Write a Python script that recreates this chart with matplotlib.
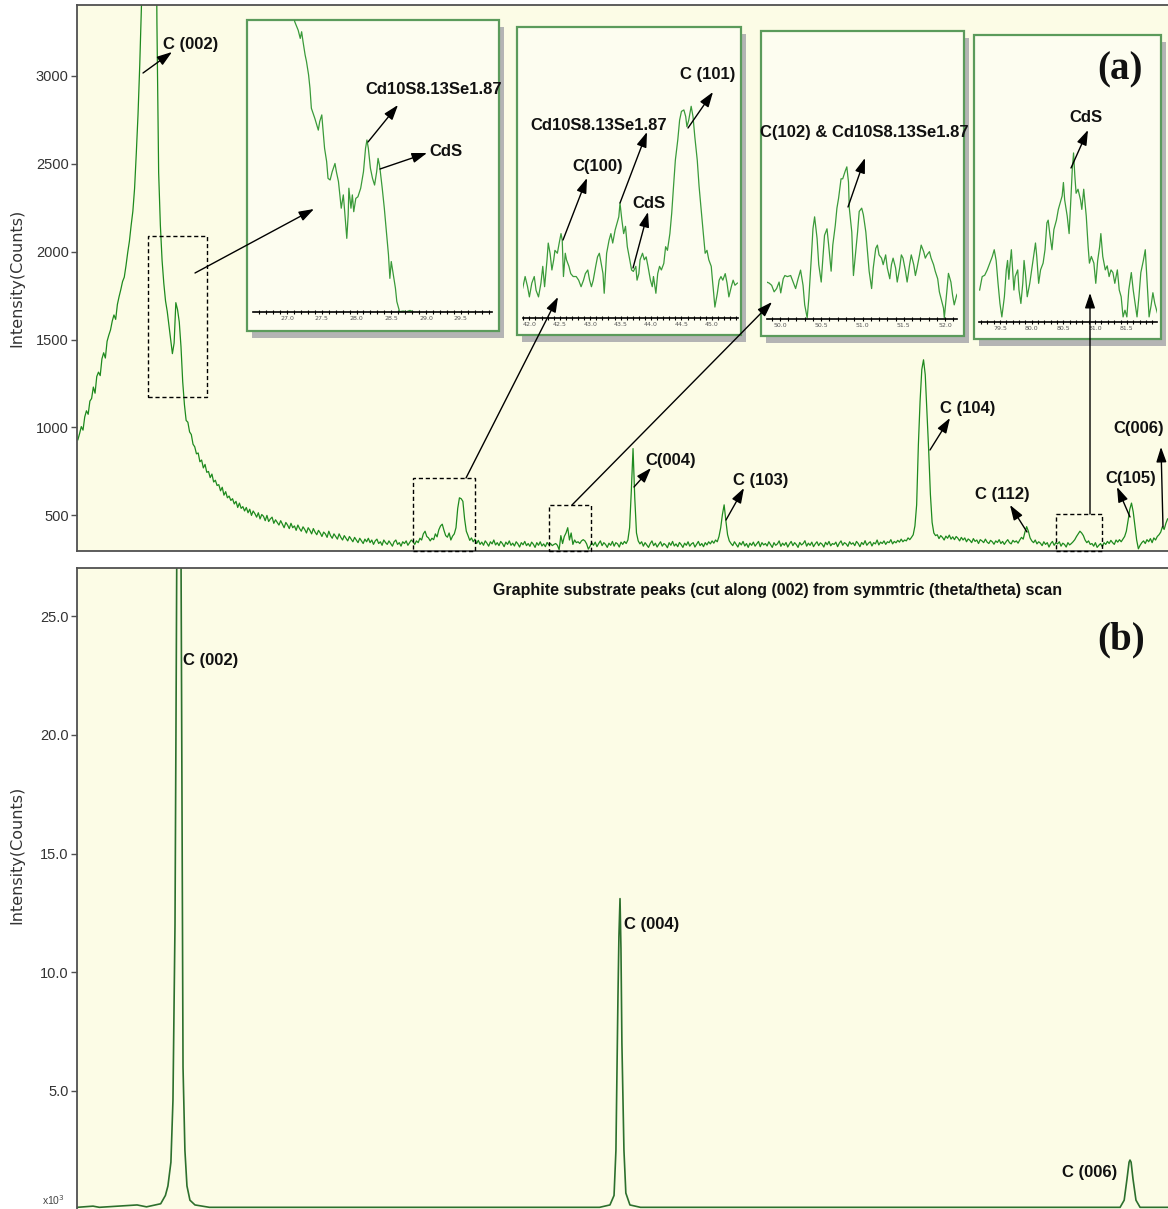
import numpy as np
import matplotlib
matplotlib.use("Agg")
import matplotlib.pyplot as plt
from matplotlib.patches import Rectangle
from matplotlib.ticker import MultipleLocator, FormatStrFormatter
from matplotlib import font_manager

# ======================= DATA =======================
# Panel (a): wide scan, 2theta grid start/step (deg) and counts
scan_start_a = 22.3
scan_step_a = 0.1
counts_a = [
    930, 965, 1005, 985, 1060, 1095, 1075, 1150, 1165, 1230,
    1195, 1290, 1315, 1295, 1390, 1425, 1395, 1490, 1525, 1555,
    1605, 1640, 1615, 1700, 1745, 1785, 1830, 1855, 1920, 1995,
    2060, 2150, 2230, 2360, 2560, 2780, 3060, 3400, 4500, 6500,
    9000, 12000, 13000, 11000, 7500, 4800, 3300, 2450, 2150, 1950,
    1820, 1720, 1660, 1580, 1500, 1420, 1480, 1710, 1670, 1600,
    1460, 1260, 1130, 1040, 1030, 975, 960, 905, 890, 850,
    855, 805, 815, 770, 790, 745, 750, 715, 735, 690,
    700, 670, 675, 640, 660, 615, 635, 600, 610, 585,
    595, 565, 580, 545, 570, 540, 550, 525, 545, 515,
    535, 500, 525, 510, 490, 515, 480, 505, 495, 470,
    500, 465, 480, 490, 455, 475, 460, 445, 470, 450,
    430, 460, 445, 425, 455, 430, 440, 415, 445, 425,
    410, 435, 420, 400, 430, 415, 395, 425, 405, 390,
    415, 400, 380, 405, 395, 375, 410, 385, 370, 395,
    380, 365, 395, 375, 360, 385, 370, 355, 380, 365,
    350, 375, 360, 345, 370, 355, 340, 365, 350, 370,
    345, 360, 335, 355, 365, 340, 350, 330, 360, 345,
    335, 355, 340, 325, 350, 360, 335, 345, 325, 350,
    340, 355, 330, 345, 360, 350, 335, 355, 345, 370,
    360, 395, 410, 380, 372, 355, 370, 362, 395, 378,
    418, 440, 450, 415, 385, 376, 400, 360, 382, 395,
    430, 540, 600, 595, 580, 480, 410, 385, 358, 372,
    350, 365, 340, 358, 335, 348, 330, 355, 342, 325,
    350, 338, 360, 332, 345, 328, 352, 340, 322, 348,
    335, 355, 330, 342, 326, 350, 338, 320, 345, 333,
    352, 328, 340, 324, 348, 336, 318, 345, 330, 350,
    326, 338, 322, 346, 332, 340, 328, 335, 340, 330,
    305, 385, 340, 380, 400, 430, 360, 400, 335, 360,
    345, 350, 340, 355, 362, 355, 338, 308, 325, 345,
    330, 348, 322, 340, 355, 328, 345, 335, 318, 342,
    330, 352, 325, 345, 338, 320, 348, 335, 352, 340,
    360, 430, 640, 880, 600, 400, 355, 338, 350, 325,
    345, 332, 318, 340, 355, 328, 342, 320, 336, 350,
    325, 340, 332, 316, 345, 330, 352, 326, 338, 322,
    346, 334, 318, 342, 330, 350, 325, 338, 345, 320,
    336, 352, 328, 340, 322, 345, 332, 350, 338, 355,
    342, 360, 350, 380, 430, 505, 560, 470, 390, 355,
    340, 328, 350, 335, 320, 345, 332, 352, 326, 340,
    318, 342, 330, 348, 325, 338, 352, 322, 345, 332,
    340, 326, 350, 334, 318, 345, 330, 338, 355, 324,
    342, 330, 346, 320, 338, 352, 328, 345, 334, 318,
    346, 332, 340, 356, 325, 342, 330, 348, 322, 338,
    350, 328, 344, 336, 320, 347, 333, 352, 327, 340,
    335, 348, 322, 342, 355, 330, 345, 338, 324, 350,
    336, 344, 328, 352, 340, 322, 346, 334, 356, 330,
    342, 350, 326, 345, 338, 360, 332, 348, 340, 355,
    335, 350, 345, 362, 338, 352, 344, 358, 348, 365,
    350, 360, 355, 372, 362, 375, 390, 440, 560, 900,
    1150, 1330, 1385, 1300, 1080, 870, 620, 460, 400, 385,
    390, 368, 385, 375, 360, 382, 370, 388, 365, 378,
    362, 380, 370, 355, 375, 360, 372, 350, 366, 358,
    345, 368, 352, 360, 340, 362, 355, 345, 365, 348,
    340, 358, 350, 336, 355, 346, 362, 340, 352, 335,
    350, 362, 345, 338, 358, 348, 355, 342, 360, 375,
    365, 405, 436, 410, 372, 355, 345, 360, 338, 350,
    342, 328, 350, 335, 345, 320, 340, 352, 330, 345,
    338, 350, 325, 342, 335, 320, 345, 332, 340, 350,
    362, 380, 395, 410, 400, 385, 360, 345, 355, 335,
    340, 325, 345, 318, 330, 340, 322, 345, 335, 352,
    340, 358, 345, 335, 360, 348, 362, 350, 365, 380,
    410, 470, 535, 570, 520, 440, 360, 310, 330, 345,
    355, 340, 362, 350, 368, 345, 372, 360, 380, 390,
    405, 436, 420, 455, 480,
]
two_theta_a = np.round(scan_start_a + scan_step_a * np.arange(len(counts_a)), 2)

# Panel (b): cut along (002), intensity in units of 10^3 counts
two_theta_b = [20.1, 21.1, 21.5, 23.9, 24.5, 25.4, 25.7, 25.86, 26.05, 26.18,
               26.31, 26.37, 26.44, 26.5, 26.56, 26.63, 26.69, 26.75, 26.82, 26.94,
               27.07, 27.26, 27.58, 28.5, 53.3, 53.96, 54.22, 54.34, 54.47, 54.53,
               54.6, 54.66, 54.72, 54.85, 54.97, 55.23, 55.9, 86.39, 86.65, 86.83,
               86.96, 87.02, 87.09, 87.21, 87.4, 87.66, 89.4]
counts_b = [0.1, 0.15, 0.1, 0.2, 0.12, 0.25, 0.6, 1.0, 2.0, 4.6,
            12, 20, 30, 45, 50, 40, 28, 18, 6, 2.5,
            1.0, 0.4, 0.2, 0.1, 0.1, 0.2, 0.6, 2.5, 9, 11.5,
            13.1, 11, 7, 2.5, 0.7, 0.2, 0.1, 0.1, 0.4, 1.3,
            2.0, 2.09, 2.0, 1.3, 0.4, 0.1, 0.1]

# Inset 1 (26.5-30 deg)
inset1_tt = [27.08, 27.11, 27.16, 27.19, 27.21, 27.23, 27.26, 27.28, 27.31, 27.33, 27.35,
             27.40, 27.45, 27.47, 27.50, 27.52, 27.54, 27.57, 27.59, 27.62, 27.65,
             27.69, 27.71, 27.74, 27.76, 27.78, 27.81, 27.83, 27.86, 27.88, 27.89,
             27.92, 27.94, 27.96, 27.99, 28.02, 28.06, 28.10, 28.13, 28.15, 28.17,
             28.20, 28.23, 28.26, 28.29, 28.31, 28.33, 28.34, 28.37, 28.40, 28.43,
             28.46, 28.48, 28.50, 28.53, 28.56, 28.58, 28.62, 28.67, 28.72, 28.77,
             28.81]
inset1_counts = [2160, 2095, 2068, 2042, 2063, 2032, 1990, 1969, 1927, 1885, 1822,
                 1790, 1753, 1780, 1801, 1748, 1696, 1654, 1601, 1596, 1622,
                 1648, 1622, 1591, 1549, 1507, 1549, 1496, 1412, 1486, 1570,
                 1507, 1549, 1496, 1538, 1543, 1570, 1622, 1696, 1722, 1696,
                 1633, 1601, 1580, 1622, 1664, 1643, 1627, 1570, 1507, 1433,
                 1360, 1286, 1339, 1297, 1255, 1213, 1181, 1183, 1181, 1185,
                 1181]

# Inset 2 (42-45.4 deg)
inset2_tt = [41.89, 41.93, 41.97, 42.00, 42.04, 42.08, 42.11, 42.15, 42.19, 42.22,
             42.25, 42.29, 42.31, 42.34, 42.37, 42.40, 42.42, 42.46, 42.49, 42.52,
             42.54, 42.56, 42.59, 42.61, 42.65, 42.68, 42.72, 42.77, 42.81, 42.85,
             42.89, 42.92, 42.96, 42.99, 43.02, 43.05, 43.09, 43.12, 43.15, 43.17,
             43.21, 43.23, 43.25, 43.27, 43.31, 43.34, 43.37, 43.41, 43.44, 43.47,
             43.49, 43.52, 43.55, 43.58, 43.61, 43.65, 43.68, 43.71, 43.75, 43.77,
             43.80, 43.82, 43.86, 43.89, 43.92, 43.95, 43.99, 44.02, 44.04, 44.08,
             44.11, 44.14, 44.17, 44.21, 44.24, 44.27, 44.31, 44.34, 44.37, 44.40,
             44.44, 44.47, 44.50, 44.54, 44.57, 44.59, 44.62, 44.66, 44.69, 44.72,
             44.76, 44.79, 44.82, 44.86, 44.89, 44.92, 44.95, 44.99, 45.01, 45.03,
             45.05, 45.09, 45.12, 45.15, 45.18, 45.22, 45.25, 45.28, 45.32, 45.35,
             45.38, 45.42]
inset2_counts = [358, 374, 360, 346, 365, 374, 355, 346, 365, 388,
                 360, 397, 420, 406, 383, 397, 410, 406, 420, 433,
                 424, 374, 406, 397, 388, 378, 374, 374, 369, 360,
                 369, 378, 383, 369, 360, 369, 388, 401, 406, 397,
                 378, 351, 378, 406, 424, 433, 420, 438, 447, 456,
                 475, 452, 433, 443, 415, 397, 383, 381, 388, 369,
                 378, 397, 406, 397, 401, 388, 369, 360, 374, 351,
                 378, 388, 383, 392, 415, 410, 433, 461, 498, 534,
                 562, 589, 601, 603, 594, 580, 589, 608, 594, 566,
                 534, 498, 470, 433, 406, 410, 397, 388, 369, 351,
                 332, 351, 369, 374, 369, 378, 365, 346, 360, 369,
                 362, 365]

# Inset 3 (50-52 deg)
inset3_tt = [49.84, 49.87, 49.90, 49.93, 49.96, 49.99, 50.01, 50.04, 50.06, 50.09,
             50.13, 50.16, 50.19, 50.22, 50.25, 50.28, 50.30, 50.33, 50.35, 50.38,
             50.40, 50.42, 50.45, 50.47, 50.50, 50.52, 50.54, 50.57, 50.59, 50.62,
             50.64, 50.67, 50.69, 50.71, 50.74, 50.76, 50.79, 50.81, 50.83, 50.84,
             50.87, 50.89, 50.91, 50.94, 50.96, 50.99, 51.01, 51.04, 51.06, 51.08,
             51.11, 51.13, 51.16, 51.18, 51.20, 51.23, 51.25, 51.28, 51.30, 51.33,
             51.35, 51.37, 51.40, 51.42, 51.45, 51.47, 51.49, 51.52, 51.54, 51.57,
             51.59, 51.62, 51.64, 51.66, 51.69, 51.71, 51.74, 51.76, 51.78, 51.81,
             51.83, 51.86, 51.88, 51.91, 51.93, 51.95, 51.98, 51.99, 52.02, 52.04,
             52.07, 52.09, 52.11, 52.14, 52.16]
inset3_counts = [334, 333, 331, 325, 328, 334, 324, 337, 340, 339,
                 340, 334, 328, 337, 345, 331, 313, 301, 319, 356,
                 383, 394, 374, 350, 334, 356, 377, 383, 368, 344,
                 368, 386, 402, 411, 429, 429, 436, 440, 426, 402,
                 380, 340, 356, 380, 399, 402, 396, 380, 362, 344,
                 328, 347, 365, 368, 359, 356, 350, 359, 347, 337,
                 350, 356, 347, 334, 347, 359, 356, 344, 334, 350,
                 359, 350, 340, 347, 359, 368, 362, 356, 359, 362,
                 356, 350, 344, 337, 325, 319, 310, 301, 325, 342,
                 334, 322, 313, 322, 325]

# Inset 4 (79.5-82 deg)
inset4_tt = [79.18, 79.22, 79.26, 79.30, 79.34, 79.38, 79.41, 79.44, 79.47, 79.50,
             79.53, 79.57, 79.60, 79.62, 79.64, 79.66, 79.68, 79.70, 79.72, 79.74,
             79.78, 79.80, 79.83, 79.86, 79.88, 79.90, 79.93, 79.97, 80.00, 80.03,
             80.06, 80.08, 80.11, 80.14, 80.18, 80.21, 80.24, 80.26, 80.29, 80.32,
             80.35, 80.39, 80.42, 80.45, 80.48, 80.50, 80.52, 80.56, 80.59, 80.62,
             80.64, 80.66, 80.68, 80.70, 80.73, 80.77, 80.79, 80.82, 80.84, 80.86,
             80.89, 80.91, 80.94, 80.98, 81.01, 81.04, 81.07, 81.09, 81.12, 81.16,
             81.19, 81.22, 81.25, 81.28, 81.31, 81.35, 81.38, 81.41, 81.44, 81.47,
             81.50, 81.53, 81.57, 81.60, 81.63, 81.66, 81.69, 81.72, 81.76, 81.79,
             81.82, 81.85, 81.88, 81.91, 81.94, 81.98]
inset4_counts = [324, 334, 335, 339, 344, 349, 354, 346, 329, 314,
                 304, 319, 339, 346, 332, 344, 354, 339, 324, 334,
                 339, 324, 314, 329, 346, 337, 319, 329, 339, 349,
                 359, 349, 329, 339, 344, 354, 374, 376, 364, 354,
                 369, 376, 384, 389, 394, 404, 391, 379, 366, 394,
                 414, 426, 409, 396, 399, 391, 384, 399, 389, 379,
                 356, 344, 349, 344, 329, 346, 356, 366, 349, 339,
                 342, 334, 339, 337, 329, 339, 324, 319, 304, 309,
                 304, 324, 337, 324, 314, 304, 319, 337, 346, 354,
                 329, 304, 312, 322, 314, 307]

# zoom windows marked by dashed boxes in (a): 2theta range and counts range
zoom_tt = [(26.4, 29.8), (41.8, 45.4), (49.7, 52.15), (79.2, 81.9)]
zoom_counts = [(1175, 2090), (297.5, 713), (297.5, 560), (297.5, 510)]
inset_tt_lim = [(26.51, 29.95), (41.89, 45.43), (49.84, 52.14), (79.17, 81.97)]
inset_count_lim = [(1180, 2100), (317, 717), (300, 565), (300, 513)]
inset_ticks = [[27.0, 27.5, 28.0, 28.5, 29.0, 29.5],
               [42.0, 42.5, 43.0, 43.5, 44.0, 44.5, 45.0],
               [50.0, 50.5, 51.0, 51.5, 52.0],
               [79.5, 80.0, 80.5, 81.0, 81.5]]
yticks_a = [500, 1000, 1500, 2000, 2500, 3000]
yticks_b = [5.0, 10.0, 15.0, 20.0, 25.0]

# ======================= STYLE / LAYOUT =======================
W, H, DPI = 1168, 1209, 100
CREAM = "#FCFCE6"
CREAM_IN = "#FDFDF0"
GREEN = "#1E8A1E"
GREEN_B = "#2D702D"
GREEN_IN = "#3A9A3A"
FRAME_GREEN = "#5B9B5B"
SPINE = "#505050"

names = {f.name for f in font_manager.fontManager.ttflist}
if "Liberation Sans Narrow" in names:
    LBL_FAM = ["Liberation Sans Narrow", "DejaVu Sans"]
    LBL_FS, TITLE_FS = 14.5, 14
else:
    LBL_FAM = ["Liberation Sans", "DejaVu Sans"]
    LBL_FS, TITLE_FS = 12, 11.5
TICK_FAM = ["Liberation Sans", "DejaVu Sans"]


def rect(x0, y0, x1, y1):
    """pixel box (origin top-left) -> figure fraction [l, b, w, h]"""
    return [x0 / W, 1 - y1 / H, (x1 - x0) / W, (y1 - y0) / H]


fig = plt.figure(figsize=(W / DPI, H / DPI), dpi=DPI)
fig.patch.set_facecolor("white")

# ---------------- panel (a) ----------------
ax = fig.add_axes(rect(77, 5, 1170, 551), facecolor=CREAM, zorder=0)
ax.plot(two_theta_a, counts_a, color=GREEN, lw=0.9)
ax.set_xlim(22.25, 85.84)
ax.set_ylim(297.5, 3403)
ax.set_xticks([])
ax.set_yticks(yticks_a)
ax.set_yticklabels([str(v) for v in yticks_a], family=TICK_FAM, fontsize=10.5, color="#333333")
ax.tick_params(axis="y", length=4, width=1, color=SPINE, pad=2)
for s in ax.spines.values():
    s.set_color(SPINE)
    s.set_linewidth(1.3)
ax.spines["right"].set_visible(False)
ax.set_ylabel("Intensity(Counts)", family=["DejaVu Sans"], fontsize=11.5, color="#333333")
ax.yaxis.set_label_coords(-0.048, 0.5)
for (t0, t1), (c0, c1) in zip(zoom_tt, zoom_counts):
    ax.add_patch(Rectangle((t0, c0), t1 - t0, c1 - c0, fill=False, ec="black",
                           lw=1.0, ls=(0, (3, 2)), clip_on=False, zorder=4))

# ---------------- insets ----------------
frames = [(247, 20, 499, 331), (517, 27, 741, 335), (761, 31, 964, 336), (974, 35, 1161, 339)]
plots = [(253, 20, 492, 312), (522.7, 27, 738, 318), (766.7, 31, 956.7, 319), (979, 36, 1156.7, 322.3)]
inset_data = [(inset1_tt, inset1_counts), (inset2_tt, inset2_counts),
              (inset3_tt, inset3_counts), (inset4_tt, inset4_counts)]
for i in range(4):
    fx0, fy0, fx1, fy1 = frames[i]
    l, b, w, h = rect(fx0 + 5, fy0 + 7, fx1 + 5, fy1 + 7)
    fig.add_artist(Rectangle((l, b), w, h, transform=fig.transFigure, fc="#B4B4B4",
                             ec="none", zorder=2))
    l, b, w, h = rect(fx0, fy0, fx1, fy1)
    fig.add_artist(Rectangle((l, b), w, h, transform=fig.transFigure, fc=CREAM_IN,
                             ec=FRAME_GREEN, lw=1.6, zorder=3))
    axi = fig.add_axes(rect(*plots[i]), zorder=5)
    axi.patch.set_alpha(0)
    tt, cc = inset_data[i]
    axi.plot(tt, cc, color=GREEN_IN, lw=0.9)
    axi.set_xlim(*inset_tt_lim[i])
    axi.set_ylim(*inset_count_lim[i])
    for s in ("left", "right", "top"):
        axi.spines[s].set_visible(False)
    axi.spines["bottom"].set_color("black")
    axi.spines["bottom"].set_linewidth(1.2)
    axi.set_yticks([])
    axi.set_xticks(inset_ticks[i])
    axi.xaxis.set_major_formatter(FormatStrFormatter("%.1f"))
    axi.xaxis.set_minor_locator(MultipleLocator(0.1))
    axi.tick_params(axis="x", which="both", direction="inout", length=3, width=0.8,
                    labelsize=4.5, pad=1.5, labelcolor="#555555")

# ---------------- panel (b) ----------------
axb = fig.add_axes(rect(77, 567.6, 1172, 1212), facecolor=CREAM, zorder=0)
axb.plot(two_theta_b, counts_b, color=GREEN_B, lw=1.2)
axb.set_xlim(20.08, 89.69)
axb.set_ylim(-0.097, 27.04)
axb.set_xticks([])
axb.set_yticks(yticks_b)
axb.set_yticklabels(["%.1f" % v for v in yticks_b], family=TICK_FAM, fontsize=10.5, color="#333333")
axb.tick_params(axis="y", length=4, width=1, color=SPINE, pad=2)
for s in axb.spines.values():
    s.set_color(SPINE)
    s.set_linewidth(1.3)
axb.spines["right"].set_visible(False)
axb.spines["bottom"].set_visible(False)
axb.set_ylabel("Intensity(Counts)", family=["DejaVu Sans"], fontsize=11.5, color="#333333")
axb.yaxis.set_label_coords(-0.048, 0.554)

# ---------------- overlay for labels & arrows (pixel coords) ----------------
ov = fig.add_axes([0, 0, 1, 1], zorder=20)
ov.set_xlim(0, W)
ov.set_ylim(H, 0)
ov.axis("off")
ov.patch.set_alpha(0)


def arrow(tail, head):
    ov.annotate("", xy=head, xytext=tail,
                arrowprops=dict(arrowstyle="-|>,head_length=0.65,head_width=0.22",
                                color="black", lw=1.0, shrinkA=0, shrinkB=0,
                                mutation_scale=14))


def label(x, y, s, fs=None):
    ov.text(x, y, s, family=LBL_FAM, fontweight="bold", fontsize=fs or LBL_FS,
            ha="left", va="center", color="#111111")


labels = [
    (163, 45, "C (002)"),
    (365, 90, "Cd10S8.13Se1.87"), (429, 151, "CdS"),
    (680, 75, "C (101)"), (530, 125, "Cd10S8.13Se1.87"), (572, 166, "C(100)"), (632, 204, "CdS"),
    (760, 133, "C(102) & Cd10S8.13Se1.87"),
    (1069, 118, "CdS"),
    (645, 461, "C(004)"), (733, 480, "C (103)"), (940, 409, "C (104)"),
    (975, 495, "C (112)"), (1105, 478, "C(105)"), (1113, 428, "C(006)"),
    (183, 660, "C (002)"), (624, 924, "C (004)"), (1062, 1172, "C (006)"),
]
for x, y, s in labels:
    label(x, y, s)

arrows = [
    ((143, 73), (172, 52)),
    ((195, 273), (314, 209)),
    ((368, 142), (398, 105)),
    ((380, 169), (427, 153)),
    ((688, 128), (713, 92)),
    ((620, 203), (647, 132)),
    ((563, 240), (587, 178)),
    ((633, 268), (648, 212)),
    ((848, 207), (865, 158)),
    ((1071, 168), (1088, 130)),
    ((466, 478), (558, 297)),
    ((572, 505), (772, 302)),
    ((1090, 514), (1090, 293)),
    ((634, 487), (651, 468)),
    ((726, 520), (744, 488)),
    ((930, 450), (950, 418)),
    ((1027, 532), (1010, 505)),
    ((1130, 517), (1117, 487)),
    ((1163, 527), (1161, 447)),
]
for t, h in arrows:
    arrow(t, h)

ov.text(493, 590, "Graphite substrate peaks (cut along (002) from symmtric (theta/theta) scan",
        family=LBL_FAM, fontweight="bold", fontsize=TITLE_FS, ha="left", va="center",
        color="#111111")
ov.text(1097, 70, "(a)", family=["Liberation Serif", "DejaVu Serif"], fontweight="bold",
        fontsize=28, ha="left", va="center", color="#111111")
ov.text(1097, 640, "(b)", family=["Liberation Serif", "DejaVu Serif"], fontweight="bold",
        fontsize=28, ha="left", va="center", color="#111111")
ov.text(42, 1207, "x10$^3$", family=TICK_FAM, fontsize=7.5, ha="left", va="bottom", color="#444444")

fig.savefig("out.png", dpi=DPI, facecolor="white")
